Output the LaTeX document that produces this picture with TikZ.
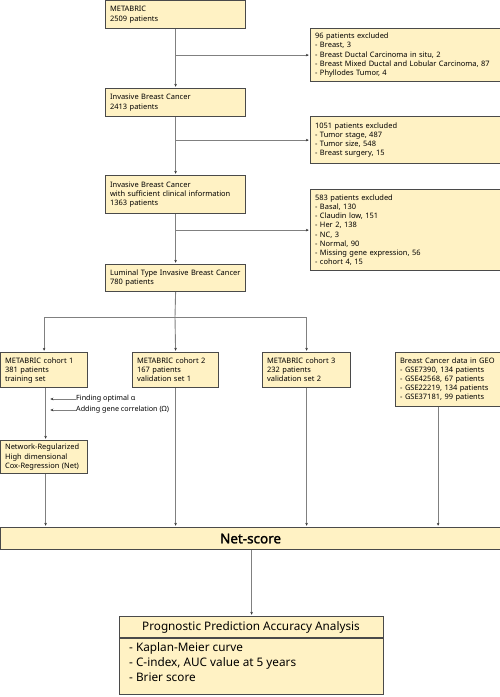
\documentclass[tikz,border=0pt]{standalone}
\usepackage{fontspec}
\setmainfont{Noto Sans}
\newfontfamily\nsbold{Noto Sans}[FakeBold=1.6]
\usetikzlibrary{arrows.meta}
\definecolor{boxc}{HTML}{FFF2C4}
\definecolor{bordc}{HTML}{4A4A4A}
\definecolor{linec}{HTML}{808080}
\tikzset{
  box/.style={draw=bordc, fill=boxc, line width=1.2bp, anchor=north west, inner xsep=4.5bp, inner ysep=0pt, align=left, font=\fontsize{7.5}{9.3}\selectfont},
  conn/.style={draw=linec, line width=0.9bp},
  arr/.style={conn, -{Stealth[length=3bp,width=2.6bp,color=black!80]}, shorten >=1.2bp},
  note/.style={anchor=west, inner sep=0pt, font=\fontsize{7.2}{8.5}\selectfont},
}
\begin{document}
\begin{tikzpicture}[x=1bp,y=-1bp]
\useasboundingbox (0,0) rectangle (500,697);
% main column
\node[box, minimum width=140bp, text width=131bp, minimum height=28bp] (m) at (105,0) {METABRIC\\2509 patients};
\node[box, minimum width=140bp, text width=131bp, minimum height=28bp] (inv) at (105,88) {Invasive Breast Cancer\\2413 patients};
\node[box, minimum width=140bp, text width=131bp, minimum height=38bp] (suf) at (105,175) {Invasive Breast Cancer\\with sufficient clinical information\\1363 patients};
\node[box, minimum width=140bp, text width=131bp, minimum height=27bp] (lum) at (105,264) {Luminal Type Invasive Breast Cancer\\780 patients};
% excluded boxes
\node[box, minimum width=190bp, text width=181bp, minimum height=53bp] (ex1) at (310,28) {96 patients excluded\\- Breast, 3\\- Breast Ductal Carcinoma in situ, 2\\- Breast Mixed Ductal and Lobular Carcinoma, 87\\- Phyllodes Tumor, 4};
\node[box, minimum width=190bp, text width=181bp, minimum height=47bp] (ex2) at (310,116) {1051 patients excluded\\- Tumor stage, 487\\- Tumor size, 548\\- Breast surgery, 15};
\node[box, minimum width=190bp, text width=181bp, minimum height=81bp] (ex3) at (310,189) {583 patients excluded\\- Basal, 130\\- Claudin low, 151\\- Her 2, 138\\- NC, 3\\- Normal, 90\\- Missing gene expression, 56\\- cohort 4, 15};
% cohorts
\node[box, minimum width=87bp, text width=78bp, minimum height=35bp, font=\fontsize{7.5}{9}\selectfont] (c1) at (0,352) {METABRIC cohort 1\\381 patients\\training set};
\node[box, minimum width=86bp, text width=77bp, minimum height=35bp, font=\fontsize{7.5}{9}\selectfont] (c2) at (132,352) {METABRIC cohort 2\\167 patients\\validation set 1};
\node[box, minimum width=88bp, text width=79bp, minimum height=35bp, font=\fontsize{7.5}{9}\selectfont] (c3) at (262,352) {METABRIC cohort 3\\232 patients\\validation set 2};
\node[box, minimum width=105bp, text width=96bp, minimum height=54bp, font=\fontsize{7.5}{9}\selectfont] (geo) at (395,352) {Breast Cancer data in GEO\\- GSE7390, 134 patients\\- GSE42568, 67 patients\\- GSE22219, 134 patients\\- GSE37181, 99 patients};
\node[box, minimum width=87bp, text width=78bp, minimum height=33bp, font=\fontsize{7.5}{9.2}\selectfont] (net) at (0,440) {Network-Regularized\\High dimensional\\Cox-Regression (Net)};
% net-score
\node[box, minimum width=500bp, text width=491bp, minimum height=22bp, align=center, font=\nsbold\fontsize{13.5}{15}\selectfont] (ns) at (0,527) {Net-score};
% final
\node[box, minimum width=264bp, minimum height=78bp] (fin) at (119,616) {};
\coordinate (dv) at (0,638);
\draw[draw=bordc, line width=1.2bp] (fin.west |- dv) -- (fin.east |- dv);
\node[anchor=center, inner sep=0pt, font=\fontsize{11.8}{14}\selectfont] (fint) at (251,627) {Prognostic Prediction Accuracy Analysis};
\node[anchor=north west, inner sep=0pt, align=left, font=\fontsize{11.8}{15}\selectfont] (finb) at (129,642) {- Kaplan-Meier curve\\- C-index, AUC value at 5 years\\- Brier score};
% annotations
\node[note] (fa) at (76,399) {Finding optimal α};
\node[note] (ag) at (76,410) {Adding gene correlation (Ω)};
% connectors
\draw[arr] (m.south) -- (inv.north);
\draw[arr] (inv.south) -- (suf.north);
\draw[arr] (suf.south) -- (lum.north);
\draw[arr] (m.south |- ex1.west) -- (ex1.west);
\draw[arr] (inv.south |- ex2.west) -- (ex2.west);
\draw[arr] (suf.south |- ex3.west) -- (ex3.west);
\coordinate (split) at (175,317);
\draw[conn] (lum.south) -- (split);
\draw[arr] (split) -| (c1.north);
\draw[arr] (split) -| (c3.north);
\draw[arr] (split) -- (c2.north);
\draw[arr] ([xshift=1.5bp]c1.south) -- ([xshift=1.5bp]net.north);
\draw[arr] (fa.west) -- ([xshift=5bp]c1.south |- fa.west);
\draw[arr] (ag.west) -- ([xshift=5bp]c1.south |- ag.west);
\draw[arr] ([xshift=1.5bp]net.south) -- ([xshift=1.5bp]net.south |- ns.north);
\draw[arr] (c2.south) -- (c2.south |- ns.north);
\draw[arr] (c3.south) -- (c3.south |- ns.north);
\draw[arr] ([xshift=-10bp]geo.south) -- ([xshift=-10bp]geo.south |- ns.north);
\draw[arr] (ns.south -| fin.north) -- (fin.north);
\end{tikzpicture}
\end{document}
